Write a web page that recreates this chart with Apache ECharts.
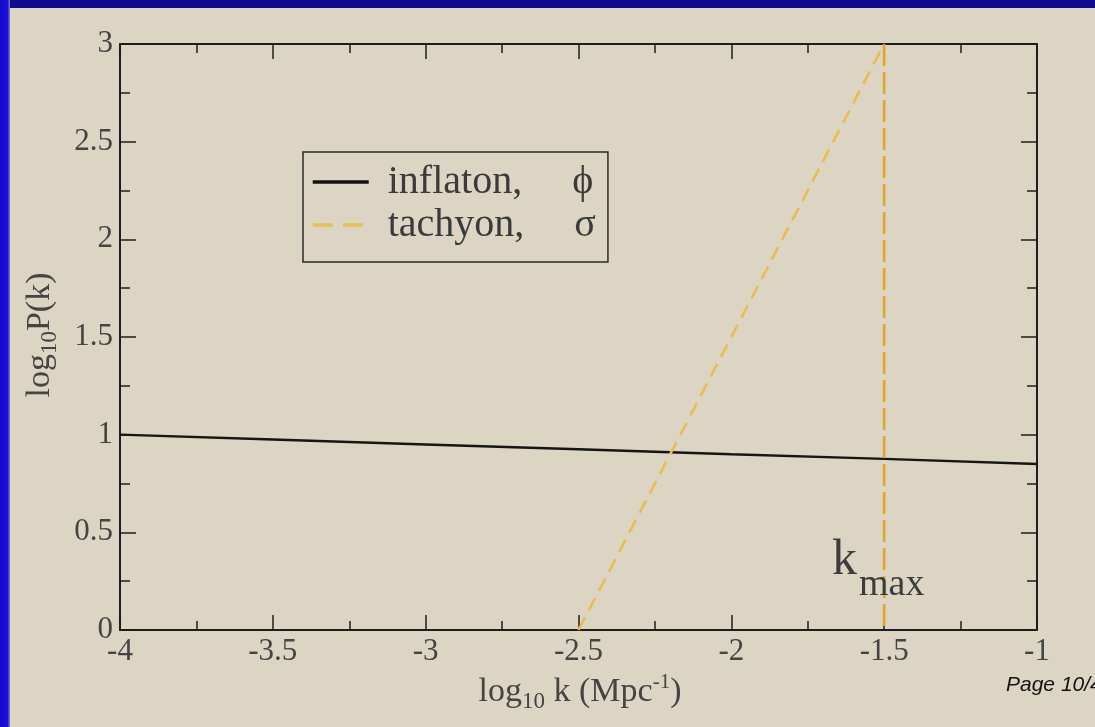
<!DOCTYPE html>
<html>
<head>
<meta charset="utf-8">
<script src="https://cdn.jsdelivr.net/npm/echarts@6/dist/echarts.min.js"></script>
<style>html,body{margin:0;padding:0;background:#ddd5c3;}#c{width:1095px;height:727px;}</style>
</head>
<body>
<div id="c"></div>
<script>
// Data
const inflatonX = [-4, -3.5, -3, -2.5, -2, -1.5, -1];
const inflatonY = [1.0, 0.975, 0.95, 0.925, 0.9, 0.876, 0.85];
const tachyonX = [-2.5, -1.5];
const tachyonY = [0, 3];
const kmaxX = [-1.5, -1.5];
const kmaxY = [3, 0];
const legendNames = ['inflaton,     \u03d5', 'tachyon,     \u03c3'];

const serif = '"Liberation Serif", "DejaVu Serif", serif';
const axisCol = '#1e1e1e';
const txtCol = '#444';

function pairs(xs, ys){ return xs.map((x,i)=>[x, ys[i]]); }

const chart = echarts.init(document.getElementById('c'), null, {renderer:'canvas'});

function xAx(pos, showLabel){
  return {
    type:'value', position:pos, min:-4, max:-1, interval:0.5,
    axisLine:{show:true, onZero:false, lineStyle:{color:axisCol, width:2}},
    axisTick:{show:true, inside:true, length:15, lineStyle:{color:axisCol, width:1.5}},
    minorTick:{show:true, splitNumber:2, length:9, lineStyle:{color:axisCol, width:1.5}},
    splitLine:{show:false}, minorSplitLine:{show:false},
    axisLabel:{show:showLabel, color:txtCol, fontFamily:serif, fontSize:31, margin:6,
      formatter:v=>String(v)}
  };
}
function yAx(pos, showLabel){
  return {
    type:'value', position:pos, min:0, max:3, interval:0.5,
    axisLine:{show:true, onZero:false, lineStyle:{color:axisCol, width:2}},
    axisTick:{show:true, inside:true, length:16, lineStyle:{color:axisCol, width:1.5}},
    minorTick:{show:true, splitNumber:2, length:10, lineStyle:{color:axisCol, width:1.5}},
    splitLine:{show:false}, minorSplitLine:{show:false},
    axisLabel:{show:showLabel, color:txtCol, fontFamily:serif, fontSize:31, margin:7,
      formatter:v=>String(v)}
  };
}

chart.setOption({
  backgroundColor:'#ddd5c3',
  animation:false,
  grid:{left:120, right:58, top:44, bottom:97, containLabel:false},
  xAxis:[xAx('bottom', true), xAx('top', false)],
  yAxis:[yAx('left', true), yAx('right', false)],
  legend:{
    show:true,
    left:303, top:152, orient:'vertical',
    data:[
      {name:legendNames[0], lineStyle:{width:3.5, color:'#111'}},
      {name:legendNames[1], lineStyle:{width:3.5, color:'#e8c04a', type:[20,10]}}
    ],
    borderColor:'#2a2a2a', borderWidth:1.5,
    padding:[10, 12, 17, 8],
    itemWidth:56, itemHeight:14, itemGap:3,
    itemStyle:{opacity:0},
    textStyle:{color:'#3a3a3a', fontFamily:serif, fontSize:40, lineHeight:38, padding:[0,0,0,14]},
    selectedMode:false
  },
  series:[
    {
      name:legendNames[0], type:'line', xAxisIndex:0, yAxisIndex:0,
      data:pairs(inflatonX, inflatonY), showSymbol:false, symbol:'none', symbolSize:0,
      lineStyle:{color:'#151515', width:2.4}, itemStyle:{color:'#151515'}
    },
    {
      name:legendNames[1], type:'line', xAxisIndex:0, yAxisIndex:0,
      data:pairs(tachyonX, tachyonY), showSymbol:false, symbol:'none', symbolSize:0,
      lineStyle:{color:'#e8bd4c', width:2.6, type:[14,8]}, itemStyle:{color:'#e8bd4c'}
    },
    {
      name:'kmax', type:'line', xAxisIndex:0, yAxisIndex:0,
      data:pairs(kmaxX, kmaxY), showSymbol:false, symbol:'none',
      lineStyle:{color:'#e2a42c', width:2.6, type:[22,6]}, itemStyle:{color:'#e2a42c'}
    }
  ],
  graphic:[
    {type:'rect', left:0, top:0, shape:{width:1095, height:8}, style:{fill:'#0d0b8e'}, z:100},
    {type:'rect', left:0, top:0, shape:{width:10, height:727},
      style:{fill:new echarts.graphic.LinearGradient(0,0,1,0,[{offset:0,color:'#1408c8'},{offset:0.75,color:'#1a10d8'},{offset:1,color:'#8a80d0'}])}, z:100},
    {type:'text', x:832, y:561, z:50,
      style:{text:'k', fontFamily:serif, fontSize:50, fill:'#3c3c3c', align:'left', verticalAlign:'middle'}},
    {type:'text', x:859, y:585, z:50,
      style:{text:'max', fontFamily:serif, fontSize:38, fill:'#3c3c3c', align:'left', verticalAlign:'middle'}},
    {type:'text', x:580, y:692, z:50,
      style:{text:'{a|log}{s|10}{a| k (Mpc}{p|-1}{a|)}', align:'center', verticalAlign:'middle', rich:{
        a:{fontFamily:serif, fontSize:34, fill:'#444'},
        s:{fontFamily:serif, fontSize:23, fill:'#444', padding:[20,0,0,0]},
        p:{fontFamily:serif, fontSize:21, fill:'#444', padding:[0,0,20,0]}
      }}},
    {type:'text', x:40, y:335, rotation:Math.PI/2, z:50,
      style:{text:'{a|log}{s|10}{a|P(k)}', align:'center', verticalAlign:'middle', rich:{
        a:{fontFamily:serif, fontSize:34, fill:'#444'},
        s:{fontFamily:serif, fontSize:23, fill:'#444', padding:[20,0,0,0]}
      }}},
    {type:'text', left:1006, top:675, z:50,
      style:{text:'Page 10/4', fontFamily:'"Liberation Sans", Arial, sans-serif', fontStyle:'italic', fontSize:21, fill:'#111'}}
  ]
});
</script>
</body>
</html>
